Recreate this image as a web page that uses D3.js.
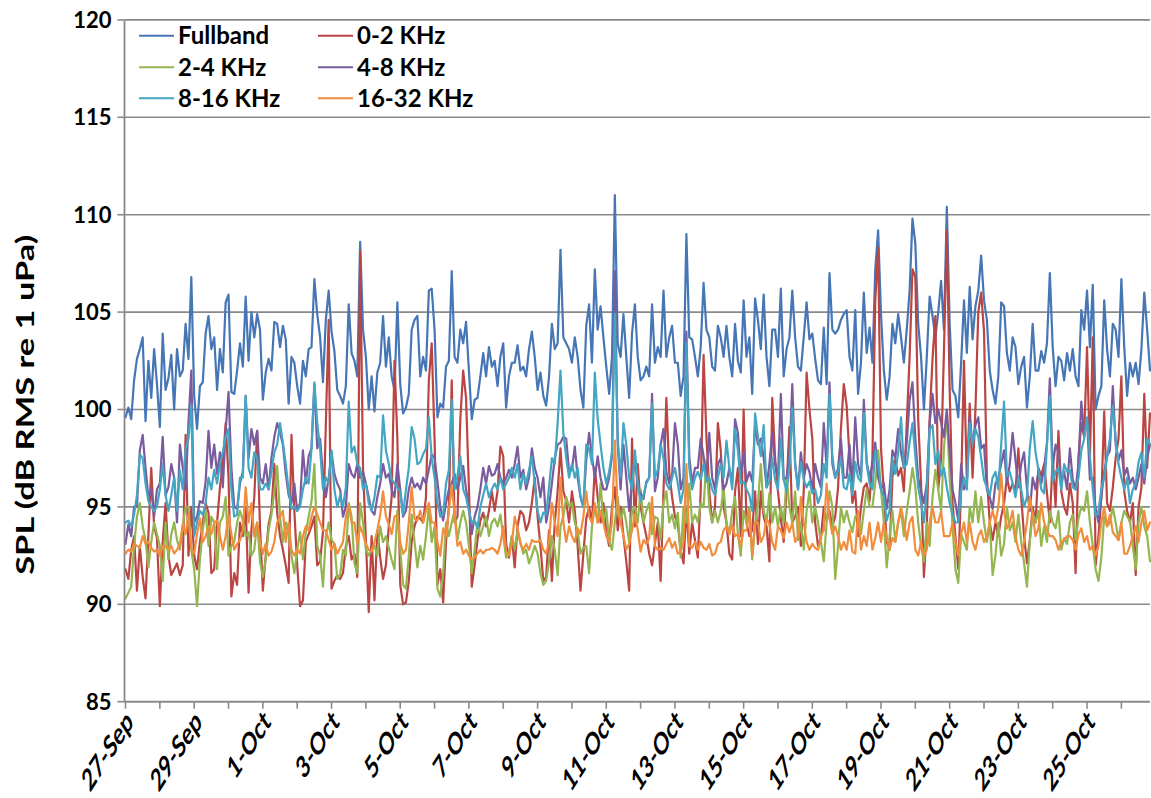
<!DOCTYPE html>
<html>
<head>
<meta charset="utf-8">
<script src="https://cdn.jsdelivr.net/npm/d3@7"></script>
<style>
  html, body { margin: 0; padding: 0; background: #ffffff; }
  svg text { font-family: Lato, "Open Sans", "Liberation Sans", sans-serif; font-weight: 700; fill: #000; }
</style>
</head>
<body>
<svg id="chart" width="1151" height="798"></svg>
<script>
// ---- Series definitions -------------------------------------------------
const seriesNames  = ["Fullband", "0-2 KHz", "2-4 KHz", "4-8 KHz", "8-16 KHz", "16-32 KHz"];
const seriesColors = ["#4676B6", "#BA4542", "#93B650", "#7A5C9E", "#43A6C2", "#F18D3C"];

// Axis ticks
const yTicks = [85, 90, 95, 100, 105, 110, 115, 120];
const xTickLabels = ["27-Sep", "29-Sep", "1-Oct", "3-Oct", "5-Oct", "7-Oct", "9-Oct", "11-Oct",
                     "13-Oct", "15-Oct", "17-Oct", "19-Oct", "21-Oct", "23-Oct", "25-Oct"];
const yearOfRecord = 2012;

// Sampling: one SPL value every 2 hours starting 27-Sep 00:00
const firstSample = "27-Sep";
const sampleStepHours = 2;

// SPL (dB RMS re 1 uPa), one row per day
const fullband = [
  99.6,100.1,99.5,101.5,102.6,103.1,103.7,99.4,102.5,100.6,103.1,101.3,
  99.1,103.9,101.0,101.6,102.8,100.0,103.1,101.7,102.0,104.4,102.6,106.8,
  100.7,99.0,101.2,101.4,103.9,104.8,103.1,103.7,101.0,103.1,101.9,105.5,
  105.9,100.9,100.8,102.0,103.4,102.2,105.8,102.5,105.0,103.7,104.9,104.1,
  100.5,101.9,102.6,102.0,104.5,104.4,103.2,104.3,103.6,100.3,102.7,102.4,
  101.2,100.3,102.5,101.7,103.1,103.2,106.7,104.9,103.7,101.4,104.6,106.1,
  104.0,103.0,101.0,100.7,100.3,101.2,105.4,102.9,102.5,101.7,108.6,104.1,
  102.7,100.0,101.7,99.9,101.9,102.4,104.8,102.2,103.7,101.7,101.0,105.5,
  101.3,99.8,100.1,100.8,104.1,104.6,104.8,101.7,102.7,102.0,106.1,106.2,
  104.1,99.6,100.3,100.1,102.2,102.5,107.1,102.7,102.4,104.1,103.4,104.5,
  102.0,99.5,100.5,100.6,101.7,102.9,101.7,103.2,102.2,102.5,101.2,102.7,
  103.4,100.1,101.7,102.4,102.4,103.3,102.0,102.2,101.7,103.1,104.0,102.7,
  101.0,101.9,100.7,100.2,101.7,104.4,103.1,103.4,108.2,103.7,103.4,103.1,
  102.4,103.7,102.7,101.0,100.1,104.3,105.4,102.4,107.2,104.1,105.3,103.7,
  102.2,100.8,102.7,111.0,103.4,102.7,104.9,102.7,100.6,103.9,105.4,102.7,
  101.5,101.7,102.2,101.7,105.4,102.4,103.2,102.7,106.1,102.7,103.7,104.3,
  102.4,102.4,100.7,101.7,109.0,103.7,103.6,102.7,101.7,103.2,106.5,104.1,
  103.7,102.2,102.0,104.3,103.7,102.7,104.3,102.7,101.7,104.4,102.5,101.9,
  105.6,102.7,103.7,100.8,105.7,104.6,103.1,105.9,102.7,101.2,104.1,104.1,
  102.7,106.2,101.7,103.1,103.7,106.1,103.7,102.2,102.0,103.7,105.5,103.6,
  103.9,102.6,101.5,101.3,104.2,101.3,107.0,104.1,103.9,104.1,104.6,104.9,
  105.1,102.7,102.0,105.1,100.8,102.4,106.0,102.9,104.2,102.4,107.2,109.2,
  104.9,102.0,100.5,101.7,104.4,103.4,104.9,103.7,102.4,104.1,106.1,109.8,
  108.5,104.4,102.7,100.0,102.7,105.8,104.8,103.7,105.0,106.6,104.1,110.4,
  104.4,101.0,100.7,99.6,102.4,105.6,102.9,106.3,103.6,105.3,106.1,107.9,
  105.6,104.6,102.0,101.0,100.3,101.7,105.5,105.3,102.9,102.0,103.7,103.2,
  101.3,102.2,102.7,100.1,101.7,104.4,102.0,102.0,103.0,102.4,103.4,107.0,
  103.2,101.2,102.7,102.5,101.5,102.9,102.0,103.1,101.7,101.2,105.1,104.1,
  106.1,103.2,106.4,100.0,100.7,101.2,105.6,103.1,101.7,104.4,104.1,102.7,
  106.7,103.2,100.7,102.4,101.7,102.4,101.3,103.1,106.0,104.1,102.0
];

const band0to2 = [
  91.8,91.3,92.8,93.5,90.7,93.0,91.4,90.3,93.5,97.0,94.0,93.4,
  89.9,93.2,95.2,92.5,91.5,91.8,92.1,91.5,92.0,98.7,92.5,95.0,
  92.5,91.8,93.2,94.2,95.2,94.7,91.6,91.8,94.2,96.0,97.2,99.3,
  96.5,90.4,91.6,91.0,94.2,93.5,95.0,90.6,93.8,95.5,98.9,94.0,
  90.7,92.5,94.1,94.8,97.2,94.7,93.5,92.8,92.0,91.1,98.7,94.8,
  92.0,89.9,90.2,93.2,93.6,94.0,94.5,92.0,92.2,93.7,99.2,104.6,
  90.8,91.2,91.5,91.3,91.6,93.0,93.5,92.3,92.6,91.4,108.1,97.0,
  93.3,89.6,93.5,90.2,93.8,92.4,91.3,92.0,94.0,95.5,102.5,98.5,
  91.0,90.0,90.1,91.2,93.2,94.0,94.5,94.4,94.2,95.5,101.5,103.4,
  98.5,91.0,91.8,90.1,93.2,95.0,101.5,94.2,94.5,99.5,102.0,100.6,
  96.0,90.9,92.0,93.3,94.3,94.7,94.0,94.8,95.8,94.8,95.8,98.1,
  97.6,93.1,92.4,93.5,91.9,94.0,94.8,94.6,93.8,94.2,95.2,96.5,
  94.5,93.0,91.2,91.4,93.8,91.2,94.2,95.8,98.0,95.8,95.3,94.2,
  95.8,94.8,93.0,90.7,92.6,94.4,95.0,94.2,97.0,95.5,94.2,95.2,
  93.7,93.0,95.0,96.0,93.8,95.0,93.5,92.2,90.7,98.5,94.0,97.2,
  95.0,94.2,93.5,92.6,92.0,93.1,94.2,91.2,95.8,100.6,96.8,95.5,
  94.5,94.1,92.8,92.1,95.0,92.6,94.2,93.3,92.4,95.8,102.8,98.6,
  95.8,94.2,95.0,99.3,97.9,95.0,94.2,92.6,92.3,95.8,97.0,93.5,
  100.0,94.2,93.5,93.8,95.8,93.1,95.8,94.5,94.0,92.2,100.6,97.5,
  95.8,94.4,93.2,96.0,99.1,94.2,94.5,95.0,93.0,95.8,101.9,100.0,
  98.5,94.2,93.0,93.4,95.0,94.3,94.8,94.0,94.5,96.0,99.0,101.3,
  100.2,97.5,95.2,95.8,93.5,95.0,96.0,96.2,95.3,97.5,105.6,108.3,
  98.0,95.8,93.2,92.8,96.5,97.4,96.6,97.0,95.8,99.3,102.7,107.2,
  106.8,99.5,96.2,91.4,94.0,99.5,102.6,104.8,95.9,97.5,103.0,109.2,
  101.0,95.2,93.5,91.8,96.0,102.5,96.3,100.3,96.5,100.0,105.0,106.0,
  104.0,96.5,94.2,93.3,94.2,93.5,94.5,95.2,96.5,95.8,96.2,95.8,
  98.0,95.5,93.5,92.1,93.3,95.0,94.2,97.0,96.6,97.2,95.7,94.2,
  97.6,95.0,98.9,95.8,95.0,94.6,96.2,95.2,91.6,97.5,99.3,98.6,
  103.2,97.5,103.7,92.0,93.5,95.5,99.9,95.2,94.8,96.0,97.5,98.5,
  101.7,95.8,94.8,94.2,95.2,91.5,95.0,96.0,100.8,97.0,99.8
];

const band2to4 = [
  90.3,90.6,90.9,93.0,94.5,95.2,94.0,93.3,91.9,93.2,94.2,93.6,
  93.0,91.2,94.2,92.3,93.6,94.2,93.3,92.8,94.0,95.0,95.0,92.8,
  91.8,89.9,92.3,93.8,94.8,93.0,94.5,94.2,91.8,94.2,94.5,95.5,
  92.5,93.0,93.2,94.2,94.8,94.3,93.5,93.7,92.5,92.8,94.2,92.2,
  91.4,92.3,93.8,94.6,95.8,97.1,94.5,93.2,94.2,93.6,92.5,91.6,
  92.8,93.7,92.3,93.7,94.5,95.3,97.2,93.0,92.5,90.9,93.5,94.2,
  93.3,93.1,91.3,91.5,92.8,92.5,95.2,94.5,92.1,91.6,95.2,94.2,
  92.8,92.5,92.8,93.0,92.5,94.0,93.2,93.5,92.9,92.3,91.8,94.8,
  92.8,91.0,90.8,92.5,94.6,93.2,91.9,93.0,92.3,93.5,95.0,93.2,
  94.0,90.8,90.4,91.6,94.2,93.5,94.2,94.8,93.3,94.2,94.8,94.2,
  93.0,91.6,92.8,94.2,93.5,94.0,94.5,93.5,94.2,94.4,94.0,94.6,
  93.5,92.4,92.6,93.5,92.8,93.8,93.2,92.6,92.8,92.1,92.5,93.0,
  92.6,91.6,91.0,91.2,92.2,93.5,92.8,91.5,94.0,94.5,95.5,95.0,
  95.2,94.2,93.8,92.6,92.9,93.0,91.6,94.0,95.0,94.2,96.2,94.2,
  94.9,93.2,92.8,94.2,95.5,94.2,95.0,94.2,93.2,94.8,95.0,94.2,
  95.9,94.2,94.8,95.2,93.6,94.5,94.4,93.3,95.2,95.8,94.2,94.6,
  93.9,94.7,92.4,95.0,94.2,96.2,94.2,94.6,94.2,95.2,95.0,97.4,
  95.0,94.2,94.8,94.2,94.8,96.0,94.2,93.6,94.8,95.5,93.6,92.5,
  94.8,94.2,95.0,92.3,94.1,95.2,97.2,94.8,94.2,95.7,94.2,95.0,
  94.0,95.0,94.2,96.5,95.0,94.2,95.8,93.3,94.2,92.8,94.8,95.8,
  94.2,95.0,94.2,93.2,92.2,94.2,95.8,95.0,91.3,93.0,95.0,94.2,
  94.8,94.2,93.7,94.5,94.6,93.6,94.8,95.9,95.0,95.0,96.2,97.9,
  95.9,94.2,91.9,93.5,94.8,93.2,94.2,94.8,93.5,94.8,95.8,97.0,
  96.0,94.2,93.0,92.2,94.2,93.0,95.5,96.9,95.9,94.8,98.0,99.8,
  96.5,94.0,91.8,91.1,93.6,93.2,92.8,95.0,94.2,95.8,94.2,95.5,
  94.2,93.2,94.2,91.5,92.5,94.2,92.5,93.1,95.0,93.8,94.2,93.2,
  94.6,93.2,92.1,90.9,93.2,94.7,94.2,94.8,93.0,94.0,93.2,94.8,
  94.2,93.9,94.8,92.8,93.4,93.1,94.2,94.6,93.3,94.4,95.0,94.8,
  95.8,94.2,93.0,91.8,91.2,92.4,94.5,94.0,94.2,95.0,94.2,93.3,
  94.2,94.8,94.5,94.3,93.0,91.8,94.2,95.0,94.0,93.5,92.2
];

const band4to8 = [
  93.1,94.1,93.5,95.0,95.0,97.9,98.7,97.0,95.5,95.9,94.5,95.9,
  96.2,98.6,95.6,96.0,97.2,96.5,94.2,98.2,97.0,95.9,99.3,102.0,
  94.2,94.5,95.3,95.2,96.3,98.9,97.0,98.2,96.7,97.8,96.0,98.9,
  100.9,97.0,95.0,94.9,96.2,96.8,100.7,97.5,99.0,98.2,98.9,96.5,
  96.2,97.2,95.9,97.5,98.6,99.3,98.8,98.2,96.7,95.6,95.2,96.2,
  94.8,95.2,97.9,96.2,97.6,98.0,101.3,98.0,98.5,96.7,95.5,96.5,
  97.8,96.7,96.2,95.9,94.5,95.0,97.2,96.7,96.5,97.2,96.5,96.8,
  96.2,95.5,94.8,94.6,95.5,96.2,97.2,96.5,96.7,95.9,95.5,97.2,
  95.9,94.5,94.8,95.9,96.5,96.0,96.2,95.9,96.5,96.2,96.9,97.7,
  97.5,96.3,95.0,94.3,95.2,95.9,96.2,96.7,95.9,96.5,97.1,95.9,
  95.0,93.6,94.5,95.0,95.9,97.0,96.2,97.1,96.6,96.7,97.2,96.5,
  96.2,96.5,96.9,96.5,97.2,98.1,96.5,96.9,95.9,96.5,98.0,97.0,
  96.5,95.5,96.5,94.2,95.0,96.2,97.5,98.2,98.3,98.6,98.5,96.8,
  96.9,98.1,96.5,95.5,95.0,97.4,98.8,97.6,96.5,97.6,96.5,95.9,
  95.9,96.5,97.6,107.1,98.2,95.9,98.2,96.5,94.8,96.2,97.5,96.0,
  95.7,95.4,96.3,96.5,100.8,95.8,96.5,98.2,99.0,96.8,96.2,96.6,
  99.3,98.2,95.9,96.5,104.0,97.6,96.2,97.0,97.0,98.5,97.6,96.5,
  98.8,96.5,95.9,97.2,97.5,95.9,96.2,97.0,96.2,99.5,98.8,96.5,
  97.8,96.3,96.8,96.3,99.3,98.2,98.5,97.5,96.0,97.2,98.8,97.2,
  96.5,100.8,96.4,96.5,97.6,101.3,97.2,95.9,97.8,96.5,97.2,96.8,
  95.9,97.2,96.5,96.0,99.3,97.0,101.4,97.2,96.5,97.0,98.5,96.5,
  96.5,98.2,96.0,99.6,97.2,96.5,100.5,97.3,96.5,97.2,98.3,96.5,
  95.9,96.2,94.9,95.9,97.9,97.5,99.0,97.8,97.0,98.3,100.5,101.4,
  98.5,96.5,95.8,95.2,96.2,99.3,100.8,99.3,100.0,99.3,98.6,100.0,
  97.8,95.9,95.2,94.3,97.2,95.9,96.2,99.6,98.2,99.2,99.6,98.0,
  98.2,95.9,95.5,94.9,96.2,96.5,97.2,97.9,96.2,97.2,98.8,97.4,
  96.0,97.2,97.8,95.9,94.8,96.5,95.9,96.8,96.2,97.0,98.3,101.6,
  97.0,98.2,97.8,96.2,96.8,95.9,98.0,96.4,95.9,97.2,100.4,98.7,
  99.5,96.4,96.5,94.9,94.2,95.5,96.8,97.6,97.9,101.2,98.2,97.4,
  97.9,96.6,97.0,96.2,96.5,95.9,96.5,97.2,96.2,97.5,98.2
];

const band8to16 = [
  94.2,94.3,94.0,94.6,95.6,97.7,97.5,96.2,95.3,95.0,94.8,95.0,
  95.9,97.2,95.6,94.8,95.6,96.5,94.8,96.9,95.9,98.0,98.5,100.2,
  93.5,94.2,94.8,94.6,95.2,96.5,95.9,96.9,96.2,97.2,97.8,98.6,
  99.0,95.9,94.5,94.6,96.5,96.5,100.7,97.0,96.5,97.8,97.5,95.9,
  95.9,96.2,95.9,96.8,97.8,98.2,99.3,98.3,97.2,95.9,94.9,95.0,
  94.8,95.0,95.9,96.5,96.2,98.0,101.4,99.3,98.0,95.9,96.5,96.2,
  97.9,95.9,95.0,95.6,95.0,96.0,100.4,97.8,98.1,97.2,97.0,95.9,
  96.2,95.2,94.8,95.5,96.6,96.5,99.7,97.9,97.2,96.4,96.2,96.0,
  95.8,94.6,95.9,97.0,99.1,98.5,97.2,97.3,97.7,98.0,99.6,97.5,
  96.5,95.2,94.5,94.6,96.2,96.9,100.5,95.9,96.6,97.6,95.9,95.5,
  94.8,94.2,94.3,93.9,95.0,95.6,96.2,95.5,95.9,96.2,95.9,96.5,
  95.9,96.2,96.5,97.0,96.5,97.2,95.9,96.7,96.2,96.9,97.6,96.2,
  94.8,94.2,94.7,94.6,96.0,97.5,97.2,99.3,102.0,98.8,97.5,96.5,
  97.2,96.5,97.0,95.5,95.0,98.2,98.0,97.2,101.9,99.5,98.2,97.0,
  96.2,96.8,97.8,104.9,98.5,96.5,99.3,98.2,96.5,95.9,97.9,96.2,
  95.3,95.6,96.2,96.5,100.3,96.5,96.9,98.2,97.5,96.2,95.9,96.5,
  97.0,96.2,95.2,95.9,103.4,97.0,95.9,96.5,96.8,96.4,97.2,96.3,
  96.5,95.9,95.6,96.5,97.2,96.5,98.4,97.0,95.9,99.0,97.9,96.2,
  96.3,95.9,95.6,94.8,99.8,98.6,97.6,99.2,96.0,96.3,97.5,96.4,
  95.9,98.5,96.4,95.8,97.0,100.1,97.2,95.9,97.3,96.4,96.0,96.3,
  95.7,95.9,95.2,95.6,97.2,96.5,100.8,97.6,96.5,96.8,97.5,96.0,
  95.9,96.7,95.6,97.3,96.5,96.3,99.8,97.2,96.2,95.9,97.9,97.2,
  95.9,95.5,94.3,94.8,97.5,96.7,97.8,99.6,97.0,97.2,98.3,99.3,
  97.6,96.0,95.2,94.2,95.9,99.0,99.2,97.2,97.9,96.6,97.0,96.0,
  95.2,94.6,94.2,94.2,95.8,96.5,95.9,99.3,98.2,99.0,98.6,97.5,
  96.4,96.0,95.6,96.5,96.8,95.9,98.2,100.4,96.6,96.8,96.2,95.5,
  96.5,95.9,95.0,95.5,98.0,99.4,97.8,96.9,95.9,95.7,98.2,100.7,
  96.3,96.8,97.0,95.9,97.2,96.8,96.9,96.0,95.9,96.5,97.9,98.5,
  99.6,97.6,95.9,94.5,94.8,95.9,96.5,97.6,98.5,100.2,98.5,97.2,
  96.5,95.9,96.5,95.2,95.9,96.2,97.3,97.8,96.5,98.5,98.2
];

const band16to32 = [
  92.6,92.8,92.7,93.1,93.0,92.9,93.5,93.1,93.2,92.9,92.7,92.8,
  92.5,93.0,93.0,92.8,93.0,92.6,92.8,93.1,94.1,93.6,94.6,92.8,
  92.6,93.6,94.4,93.2,93.5,94.0,93.6,94.2,94.3,93.5,92.8,93.5,
  94.6,93.6,92.8,93.1,93.3,93.8,96.0,94.2,95.2,93.5,94.2,93.2,
  92.6,93.1,92.5,92.7,93.2,94.2,94.5,94.8,93.2,94.2,92.8,92.5,
  92.8,92.6,93.5,94.0,93.8,94.5,95.0,94.6,94.2,93.8,93.8,93.3,
  92.8,93.1,92.6,92.9,93.2,94.5,95.1,94.2,94.2,93.1,94.0,93.6,
  93.1,92.8,92.7,93.2,93.8,94.6,95.8,94.5,94.1,93.6,94.5,94.6,
  93.2,92.6,92.8,94.2,96.0,94.4,94.3,94.8,94.2,94.8,95.2,94.2,
  94.2,93.2,92.5,93.9,93.5,94.8,96.1,94.6,93.0,93.2,92.6,92.8,
  92.5,92.3,92.4,92.6,92.8,92.6,92.8,92.8,92.9,92.8,92.6,93.1,
  94.0,92.7,92.5,93.1,94.5,93.9,93.1,92.8,93.1,92.8,93.3,93.2,
  93.2,93.3,92.8,92.6,93.2,95.2,94.2,93.5,96.5,94.2,93.2,94.0,
  93.5,93.2,93.9,93.6,94.5,95.8,94.5,94.2,95.2,94.2,94.8,94.2,
  93.5,93.2,94.2,98.4,94.8,94.2,93.5,92.8,93.1,93.8,94.6,93.8,
  92.7,93.3,93.1,93.4,95.5,93.0,92.8,92.9,92.8,93.1,93.4,92.9,
  93.2,92.6,92.7,93.2,97.2,93.0,92.9,93.2,92.8,93.2,92.9,92.8,
  93.1,92.5,92.6,93.1,93.2,93.8,94.0,93.6,94.1,93.5,93.6,93.0,
  93.8,93.8,94.8,92.5,94.2,94.2,93.2,93.5,94.4,94.1,93.2,92.8,
  94.0,93.8,93.4,94.2,93.7,94.2,93.2,93.5,95.5,94.2,93.2,92.8,
  93.1,92.9,92.8,93.5,93.8,96.2,94.4,93.6,94.0,93.5,92.8,93.2,
  92.8,93.8,92.7,92.6,94.8,92.8,93.5,93.0,94.2,92.8,93.4,94.2,
  93.2,94.2,93.4,92.8,93.4,93.2,94.2,95.0,94.2,93.3,94.2,94.5,
  92.8,92.5,93.2,92.5,92.8,94.2,95.0,94.2,94.2,94.8,93.5,93.5,
  93.5,94.2,93.2,92.5,93.6,94.2,93.2,94.2,93.2,92.8,93.5,93.8,
  93.2,93.5,94.2,94.8,94.2,95.0,96.7,94.8,93.9,94.2,94.8,93.5,
  92.8,92.5,93.2,94.2,95.5,94.6,93.5,93.9,95.2,94.2,93.8,93.5,
  93.5,93.3,92.8,93.2,93.3,93.5,93.5,93.3,92.8,93.6,93.9,93.2,
  93.5,92.8,93.0,92.5,93.0,94.2,95.0,94.0,94.6,93.7,93.5,93.3,
  94.2,92.6,92.6,93.0,93.5,94.0,93.2,94.2,94.8,93.8,94.2
];

const seriesValues = [fullband, band0to2, band2to4, band4to8, band8to16, band16to32];

// ---- Layout ---------------------------------------------------------------
const W = 1151, H = 798;
const plot = { left: 125.5, right: 1150, top: 19.9, bottom: 701.7 };
const gridColor = "#898989";
const axisTextScale = [0.9, 1.4];   // x-axis captions: slightly condensed, tall

const parseDay = d3.utcParse("%d-%b-%Y");
const t0 = parseDay(firstSample + "-" + yearOfRecord);
const stepMs = sampleStepHours * 3600 * 1000;
const nSamples = d3.max(seriesValues, s => s.length);
const tEnd = new Date(t0.getTime() + (nSamples - 1) * stepMs);

const x = d3.scaleUtc().domain([t0, tEnd]).range([plot.left, plot.right]);
const y = d3.scaleLinear().domain([85, 120]).range([plot.bottom, plot.top]);

const svg = d3.select("#chart");
svg.append("rect").attr("width", W).attr("height", H).attr("fill", "#fff");

// Horizontal gridlines
svg.append("g").selectAll("line").data(yTicks).join("line")
  .attr("x1", plot.left - 1).attr("x2", plot.right)
  .attr("y1", d => y(d)).attr("y2", d => y(d))
  .attr("stroke", gridColor).attr("stroke-width", 1.6);

// Series lines
const line = d3.line()
  .x((d, i) => x(new Date(t0.getTime() + i * stepMs)))
  .y(d => y(d));

svg.append("g").selectAll("path").data(seriesValues).join("path")
  .attr("d", d => line(d))
  .attr("fill", "none")
  .attr("stroke", (d, i) => seriesColors[i])
  .attr("stroke-width", 2.2)
  .attr("stroke-linejoin", "round")
  .attr("stroke-linecap", "round");

// Y axis
const yAxis = svg.append("g");
yAxis.append("line")
  .attr("x1", plot.left - 1).attr("x2", plot.left - 1)
  .attr("y1", plot.top).attr("y2", plot.bottom)
  .attr("stroke", gridColor).attr("stroke-width", 1.8);
yAxis.selectAll("line.tick").data(yTicks).join("line").attr("class", "tick")
  .attr("x1", plot.left - 8).attr("x2", plot.left - 1)
  .attr("y1", d => y(d)).attr("y2", d => y(d))
  .attr("stroke", gridColor).attr("stroke-width", 1.6);
yAxis.selectAll("text").data(yTicks).join("text")
  .attr("x", plot.left - 14).attr("y", d => y(d))
  .attr("dy", "0.36em")
  .attr("text-anchor", "end")
  .style("font-size", "22px")
  .text(d => d);

// X axis: daily ticks, labels every second day
const dayTicks = d3.utcDay.range(t0, new Date(tEnd.getTime() + 1));
const labelDates = xTickLabels.map(l => parseDay(l + "-" + yearOfRecord));
const xAxis = svg.append("g");
xAxis.append("line")
  .attr("x1", plot.left - 1).attr("x2", plot.right)
  .attr("y1", plot.bottom).attr("y2", plot.bottom)
  .attr("stroke", gridColor).attr("stroke-width", 1.8);
xAxis.selectAll("line.tick").data(dayTicks).join("line").attr("class", "tick")
  .attr("x1", d => x(d)).attr("x2", d => x(d))
  .attr("y1", plot.bottom).attr("y2", plot.bottom + 7)
  .attr("stroke", gridColor).attr("stroke-width", 1.6);
xAxis.selectAll("text").data(labelDates).join("text")
  .attr("transform", d => `translate(${x(d) + 9},${plot.bottom + 22}) scale(${axisTextScale[0]},${axisTextScale[1]}) rotate(-45)`)
  .attr("text-anchor", "end")
  .style("font-size", "22px")
  .text((d, i) => xTickLabels[i]);

// Y axis title
svg.append("text")
  .attr("transform", `translate(34,${(plot.top + plot.bottom) / 2 + 44}) rotate(-90)`)
  .attr("text-anchor", "middle")
  .attr("textLength", 340)
  .attr("lengthAdjust", "spacingAndGlyphs")
  .style("font-size", "24px")
  .text("SPL (dB RMS re 1 uPa)");

// Legend: two columns, three rows
const legend = svg.append("g");
const legendCols = [139, 318];
const legendRows = [35.7, 67.3, 98.3];
seriesNames.forEach((name, i) => {
  const cx = legendCols[i % 2];
  const cy = legendRows[Math.floor(i / 2)];
  legend.append("line")
    .attr("x1", cx).attr("x2", cx + 35)
    .attr("y1", cy).attr("y2", cy)
    .attr("stroke", seriesColors[i]).attr("stroke-width", 2);
  legend.append("text")
    .attr("x", cx + 39).attr("y", cy + 8.5)
    .style("font-size", "24px")
    .text(name);
});
</script>
</body>
</html>
